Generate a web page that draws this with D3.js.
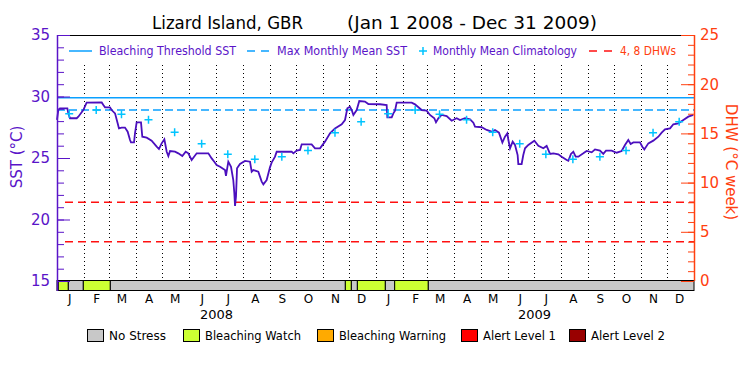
<!DOCTYPE html>
<html>
<head>
<meta charset="utf-8">
<title>Lizard Island, GBR</title>
<script src="https://d3js.org/d3.v7.min.js"></script>
<style>
  body { margin: 0; background: #fff; }
  svg { display: block; font-family: "DejaVu Sans", sans-serif; }
</style>
</head>
<body>
<svg width="750" height="375"></svg>
<script>
// ---- data (days counted from 1 Jan 2008) ----
const startDate = Date.UTC(2008, 0, 1);
const dayToDate = d => new Date(startDate + d * 864e5);

const sstDay = [0, 1.5, 3.4, 11.9, 13, 14.9, 22.6, 24.5, 30.2, 34, 51.3, 53.2, 55.1, 60.8, 62.7, 66.6, 69.6, 71.1, 74.2, 78,
  81.1, 83.8, 84.9, 88.4, 89.5, 91.4, 96.4, 97.9, 102.9, 108.6, 114.4, 117, 120.1, 123.2, 125.9, 127.8, 129.7, 135.4, 139.2, 143.8,
  147.7, 150.7, 154.5, 160.3, 173.7, 177.5, 180.5, 183.2, 187.1, 192.8, 193.9, 196.6, 199.7, 202.3, 203.5, 204.3, 205.4, 206.6, 210, 215.7,
  221.5, 223.4, 225.3, 231, 234.9, 236.8, 240.6, 244.4, 246.3, 250.2, 252.1, 269.3, 271.2, 275, 278.9, 280.8, 292.2, 296.1, 301.8, 307.5,
  313.3, 319, 326.7, 330.5, 333.2, 336.2, 338.2, 340.1, 343.9, 346.9, 353.4, 357.3, 370.7, 378.3, 379.1, 384.1, 386, 387.9, 389.8, 407,
  410.8, 418.5, 424.2, 428, 433, 434.9, 437.6, 441.4, 447.2, 452.9, 458.6, 462.5, 468.2, 474, 477.8, 479.7, 487.3, 493.1, 498.8, 502.6,
  507.2, 511.1, 514.1, 516.8, 518, 519.9, 522.9, 525.6, 528.6, 529.4, 533.2, 535.1, 537.1, 540.9, 547.8, 552.4, 558.1, 561.9, 565.8, 569.6,
  575.3, 579.1, 584.9, 586.8, 589.8, 592.5, 595.2, 598.3, 604, 607.8, 613.6, 617.4, 623.1, 626.9, 630, 636.5, 642.3, 648, 651.8, 655.6,
  658.3, 661.4, 669, 671.7, 674, 678.6, 684.3, 690.1, 693.9, 697.7, 703.5, 707.3, 713, 718.8, 724.5, 730.2];
const sstValue = [28.1, 28.9, 29.04, 29.04, 28.63, 28.23, 28.23, 28.36, 28.9, 29.5, 29.52, 29.31, 29.12, 29.12, 28.9, 28.63, 27.82, 27.41, 27.47, 27.47,
  27.14, 26.46, 26.27, 26.27, 27.01, 27.9, 27.9, 26.73, 26.65, 26.41, 25.92, 25.73, 26.19, 26.52, 25.51, 25.16, 25.57, 25.51, 25.38, 25.16,
  25.51, 25.38, 24.84, 25.38, 25.38, 24.97, 24.7, 24.43, 24.29, 24.02, 23.54, 24.7, 24.29, 23.21, 22.13, 21.1, 21.86, 24.16, 24.51, 24.76,
  24.7, 23.89, 24.02, 23.89, 23.08, 22.86, 23.21, 24.24, 24.62, 25.11, 25.51, 25.51, 25.38, 25.6, 25.65, 26.11, 26.11, 25.79, 25.79, 26.33,
  27.01, 27.41, 27.74, 28.09, 29.04, 29.17, 28.9, 28.5, 28.9, 29.63, 29.59, 29.39, 29.37, 29.31, 28.31, 28.31, 28.63, 28.85, 29.5, 29.5,
  29.36, 28.9, 28.85, 28.5, 28.23, 27.9, 28.23, 28.5, 28.41, 28.03, 28.23, 28.09, 28.23, 28.14, 27.87, 27.55, 27.5, 27.28, 27.14, 27.28,
  27.06, 26.25, 26.73, 27.01, 26.46, 25.79, 26.33, 26.06, 25.24, 24.51, 24.51, 25.24, 25.79, 26.06, 26.41, 26.0, 25.79, 25.98, 25.33, 25.38,
  25.3, 25.11, 24.84, 24.78, 25.33, 25.51, 25.11, 25.11, 25.38, 25.57, 25.46, 25.7, 25.6, 25.33, 25.6, 25.6, 25.43, 25.57, 26.06, 26.46,
  26.14, 26.27, 26.27, 25.92, 25.7, 26.19, 26.41, 26.73, 27.06, 27.33, 27.41, 27.74, 27.82, 28.09, 28.36, 28.5];

// monthly mean climatology, Jan..Dec (plotted mid-month each year)
const climValue = [28.6, 28.9, 28.55, 28.1, 27.1, 26.15, 25.3, 24.9, 25.1, 25.6, 27.05, 27.95];
const years = [2008, 2009];
const monthLetters = ["J", "F", "M", "A", "M", "J", "J", "A", "S", "O", "N", "D"];

const bleachingThreshold = 29.9;
const maxMonthlyMean = 28.9;
const dhwLevels = [4, 8];

// stress level bar: 0 = no stress, 1 = bleaching watch
const stressStart = [0, 1.5, 13, 30.2, 61.2, 330.9, 337.8, 344.7, 376.8, 387.5, 426.1];
const stressEnd = [1.5, 13, 30.2, 61.2, 330.9, 337.8, 344.7, 376.8, 387.5, 426.1, 731];
const stressLevel = [0, 1, 0, 1, 0, 1, 0, 1, 0, 1, 0];
const stressNames = ["No Stress", "Bleaching Watch", "Bleaching Warning", "Alert Level 1", "Alert Level 2"];
const stressColors = ["#c8c8c8", "#ccff33", "#ffaa00", "#ff0000", "#990000"];

// ---- layout ----
const svg = d3.select("svg");
const padL = 57, padR = 694, plotTop = 35, plotBottom = 281, barH = 10;
const purple = "#5a14c8", lineCol = "#4b0fbe", cyan = "#00c4ff", blue = "#0aa0ff", red = "#ff1010", orange = "#ff4010";

const x = d3.scaleUtc().domain([dayToDate(0), dayToDate(731)]).range([padL, padR]);
const ySst = d3.scaleLinear().domain([15, 35]).range([plotBottom, plotTop]);
const yDhw = d3.scaleLinear().domain([0, 25]).range([plotBottom, plotTop]);

svg.append("rect").attr("width", 750).attr("height", 375).attr("fill", "#fff");

// title
svg.append("text").attr("x", 152).attr("y", 29).attr("font-size", 17)
  .attr("textLength", 151).attr("lengthAdjust", "spacingAndGlyphs").text("Lizard Island, GBR");
svg.append("text").attr("x", 347).attr("y", 29).attr("font-size", 17)
  .attr("textLength", 250).attr("lengthAdjust", "spacingAndGlyphs").text("(Jan 1 2008 - Dec 31 2009)");

// monthly dotted grid
svg.append("g").selectAll("line")
  .data(d3.utcMonth.range(dayToDate(1), dayToDate(731)))
  .join("line")
  .attr("x1", d => Math.round(x(d)) + 0.5).attr("x2", d => Math.round(x(d)) + 0.5)
  .attr("y1", 65).attr("y2", plotBottom)
  .attr("stroke", "#000").attr("stroke-dasharray", "1,3");

// reference lines
svg.append("line").attr("x1", padL).attr("x2", padR)
  .attr("y1", ySst(bleachingThreshold)).attr("y2", ySst(bleachingThreshold))
  .attr("stroke", blue).attr("stroke-width", 1.5);
svg.append("line").attr("x1", padL).attr("x2", padR)
  .attr("y1", ySst(maxMonthlyMean)).attr("y2", ySst(maxMonthlyMean))
  .attr("stroke", blue).attr("stroke-width", 1.5).attr("stroke-dasharray", "8,4");
svg.append("g").selectAll("line").data(dhwLevels).join("line")
  .attr("x1", padL + 8).attr("x2", padR)
  .attr("y1", d => yDhw(d)).attr("y2", d => yDhw(d))
  .attr("stroke", red).attr("stroke-width", 1.5).attr("stroke-dasharray", "8,5");

// SST line
const sst = sstDay.map((d, i) => ({ date: dayToDate(d), v: sstValue[i] }));
svg.append("path").datum(sst)
  .attr("fill", "none").attr("stroke", lineCol).attr("stroke-width", 1.8)
  .attr("d", d3.line().x(d => x(d.date)).y(d => ySst(d.v)));

// climatology pluses
const clim = years.flatMap(yr => climValue.map((v, m) => ({ date: new Date(Date.UTC(yr, m, 15)), v })));
const plus = "M-4,0H4M0,-4V4";
svg.append("g").selectAll("path").data(clim).join("path")
  .attr("transform", d => `translate(${x(d.date)},${ySst(d.v)})`)
  .attr("d", plus).attr("stroke", cyan).attr("stroke-width", 1.5).attr("fill", "none");

// frame top
svg.append("line").attr("x1", padL).attr("x2", padR).attr("y1", plotTop + 0.5).attr("y2", plotTop + 0.5)
  .attr("stroke", "#000");

// stress bar
const stress = stressStart.map((s, i) => ({ s, e: stressEnd[i], level: stressLevel[i] }));
svg.append("g").selectAll("rect").data(stress).join("rect")
  .attr("x", d => x(dayToDate(d.s))).attr("width", d => x(dayToDate(d.e)) - x(dayToDate(d.s)))
  .attr("y", plotBottom - 0.5).attr("height", barH)
  .attr("fill", d => stressColors[d.level]).attr("stroke", "#000").attr("stroke-width", 1);

// left axis (SST)
const gl = svg.append("g").attr("transform", `translate(${padL},0)`).attr("color", purple);
gl.call(d3.axisLeft(ySst).ticks(20).tickSize(-7).tickSizeOuter(0).tickFormat(""));
gl.select(".domain").remove();
const glm = svg.append("g").attr("transform", `translate(${padL},0)`).attr("color", purple);
glm.call(d3.axisLeft(ySst).tickValues([15, 20, 25, 30, 35]).tickSize(-13).tickPadding(7).tickSizeOuter(0));
glm.select(".domain").remove();
glm.selectAll("text").attr("font-size", 15).attr("font-family", "DejaVu Sans").attr("fill", purple);
svg.append("line").attr("x1", padL + 0.5).attr("x2", padL + 0.5).attr("y1", plotTop).attr("y2", plotBottom + barH)
  .attr("stroke", purple).attr("stroke-width", 1.5);
svg.append("text").attr("transform", "translate(17,157) rotate(-90)").attr("text-anchor", "middle")
  .attr("dy", "0.35em").attr("font-size", 15).attr("fill", purple).text("SST (°C)");

// right axis (DHW)
const gr = svg.append("g").attr("transform", `translate(${padR},0)`).attr("color", orange);
gr.call(d3.axisRight(yDhw).ticks(25).tickSize(-6).tickSizeOuter(0).tickFormat(""));
gr.select(".domain").remove();
const grm = svg.append("g").attr("transform", `translate(${padR},0)`).attr("color", orange);
grm.call(d3.axisRight(yDhw).tickValues([0, 5, 10, 15, 20, 25]).tickSize(-13).tickPadding(6).tickSizeOuter(0));
grm.select(".domain").remove();
grm.selectAll("text").attr("font-size", 15).attr("font-family", "DejaVu Sans").attr("fill", orange);
svg.append("line").attr("x1", padR + 0.5).attr("x2", padR + 0.5).attr("y1", plotTop).attr("y2", plotBottom)
  .attr("stroke", orange).attr("stroke-width", 1.5);
svg.append("text").attr("transform", "translate(731,162) rotate(90)").attr("text-anchor", "middle")
  .attr("dy", "0.35em").attr("font-size", 15).attr("fill", orange).text("DHW (°C week)");

// month letters
const gx = svg.append("g").attr("transform", `translate(0,${plotBottom + barH})`);
gx.call(d3.axisBottom(x)
  .tickValues(years.flatMap(yr => d3.range(12).map(m => new Date(Date.UTC(yr, m, 15)))))
  .tickSize(0).tickFormat(d => monthLetters[d.getUTCMonth()]));
gx.select(".domain").remove();
gx.selectAll("text").attr("y", 12).attr("dy", 0).attr("font-size", 12).attr("font-family", "DejaVu Sans");

// year labels
svg.append("g").selectAll("text").data(years).join("text")
  .attr("x", yr => x(new Date(Date.UTC(yr, 6, 2))))
  .attr("y", 319).attr("text-anchor", "middle").attr("font-size", 13).text(yr => yr);

// top legend
const lg = svg.append("g").attr("font-size", 12);
lg.append("line").attr("x1", 69).attr("x2", 92).attr("y1", 51).attr("y2", 51).attr("stroke", blue).attr("stroke-width", 1.5);
lg.append("text").attr("x", 99).attr("y", 55).attr("fill", purple)
  .attr("textLength", 137).attr("lengthAdjust", "spacingAndGlyphs").text("Bleaching Threshold SST");
lg.append("line").attr("x1", 247).attr("x2", 269).attr("y1", 51).attr("y2", 51).attr("stroke", blue)
  .attr("stroke-width", 1.5).attr("stroke-dasharray", "8,6");
lg.append("text").attr("x", 277).attr("y", 55).attr("fill", purple)
  .attr("textLength", 130).attr("lengthAdjust", "spacingAndGlyphs").text("Max Monthly Mean SST");
lg.append("path").attr("transform", "translate(423,51)").attr("d", plus).attr("stroke", cyan).attr("stroke-width", 1.5);
lg.append("text").attr("x", 433).attr("y", 55).attr("fill", purple)
  .attr("textLength", 144).attr("lengthAdjust", "spacingAndGlyphs").text("Monthly Mean Climatology");
lg.append("line").attr("x1", 589).attr("x2", 612).attr("y1", 51).attr("y2", 51).attr("stroke", red)
  .attr("stroke-width", 1.5).attr("stroke-dasharray", "8,7");
lg.append("text").attr("x", 620).attr("y", 55).attr("fill", orange)
  .attr("textLength", 56).attr("lengthAdjust", "spacingAndGlyphs").text("4, 8 DHWs");

// stress legend
const boxX = [87, 183, 317, 461, 569];
const textLen = [57, 96, 107, 73, 74];
const sl = svg.append("g").selectAll("g").data(stressNames).join("g")
  .attr("transform", (d, i) => `translate(${boxX[i]},0)`);
sl.append("rect").attr("x", 0.5).attr("y", 329.5).attr("width", 16).attr("height", 12)
  .attr("fill", (d, i) => stressColors[i]).attr("stroke", "#000");
sl.append("text").attr("x", 22).attr("y", 340).attr("font-size", 13)
  .attr("textLength", (d, i) => textLen[i]).attr("lengthAdjust", "spacingAndGlyphs").text(d => d);
</script>
</body>
</html>
